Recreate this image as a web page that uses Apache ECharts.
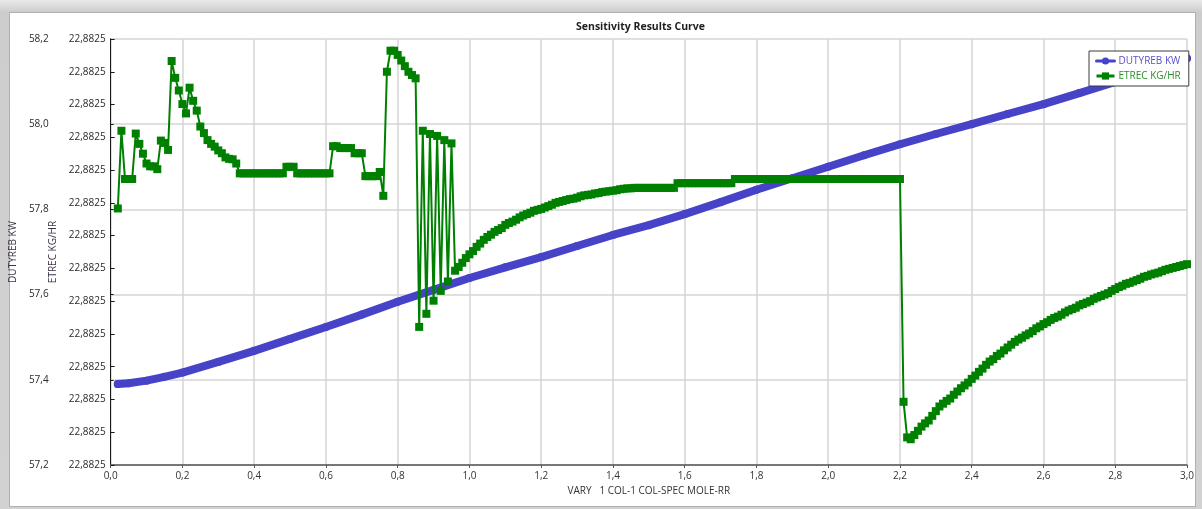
<!DOCTYPE html>
<html>
<head>
<meta charset="utf-8">
<script src="https://cdn.jsdelivr.net/npm/echarts@6/dist/echarts.min.js"></script>
<style>
  html, body { margin: 0; padding: 0; width: 1202px; height: 509px; overflow: hidden;
    background: linear-gradient(180deg, #e9e9e9 0px, #cdcdcd 12px, #d2d2d2 100%); }
  #panel { position: absolute; left: 9px; top: 12px; width: 1187px; height: 495px;
    background: #fff; border: 1px solid #b0b0b0; box-sizing: border-box; }
  #chart { position: absolute; left: 0; top: 0; width: 1202px; height: 509px; }
</style>
</head>
<body>
<div id="panel"></div>
<div id="chart"></div>
<script>
// ---- Data ----
const chartTitle = 'Sensitivity Results Curve';
const xAxisName = 'VARY   1 COL-1 COL-SPEC MOLE-RR';
const seriesNames = ['DUTYREB KW', 'ETREC KG/HR'];

// DUTYREB KW (left outer axis)
const dutyX = [0.02, 0.05, 0.1, 0.15, 0.2, 0.3, 0.4, 0.5, 0.6, 0.7, 0.8, 0.9, 1.0,
  1.1, 1.2, 1.3, 1.4, 1.5, 1.6, 1.7, 1.8, 1.9, 2.0,
  2.1, 2.2, 2.3, 2.4, 2.5, 2.6, 2.7, 2.8, 2.9, 3.0];
const dutyKW = [57.390, 57.392, 57.398, 57.407, 57.417, 57.442, 57.468, 57.496, 57.524, 57.553, 57.583, 57.611, 57.639,
  57.664, 57.688, 57.714, 57.740, 57.763, 57.789, 57.817, 57.846, 57.873, 57.900,
  57.927, 57.953, 57.977, 58.000, 58.024, 58.047, 58.073, 58.099, 58.127, 58.155];

// ETREC KG/HR sweep points (VARY 1)
const etrecX = [
  0.02,0.03,0.04,0.05,0.06,0.07,0.08,0.09,
  0.10,0.11,0.12,0.13,0.14,0.15,0.16,0.17,0.18,0.19,
  0.20,0.21,0.22,0.23,0.24,0.25,0.26,0.27,0.28,0.29,
  0.30,0.31,0.32,0.33,0.34,0.35,0.36,0.37,0.38,0.39,
  0.40,0.41,0.42,0.43,0.44,0.45,0.46,0.47,0.48,0.49,
  0.50,0.51,0.52,0.53,0.54,0.55,0.56,0.57,0.58,0.59,
  0.60,0.61,0.62,0.63,0.64,0.65,0.66,0.67,0.68,0.69,
  0.70,0.71,0.72,0.73,0.74,0.75,0.76,0.77,0.78,0.79,
  0.80,0.81,0.82,0.83,0.84,0.85,0.86,0.87,0.88,0.89,
  0.90,0.91,0.92,0.93,0.94,0.95,0.96,0.97,0.98,0.99,
  1.00,1.01,1.02,1.03,1.04,1.05,1.06,1.07,1.08,1.09,
  1.10,1.11,1.12,1.13,1.14,1.15,1.16,1.17,1.18,1.19,
  1.20,1.21,1.22,1.23,1.24,1.25,1.26,1.27,1.28,1.29,
  1.30,1.31,1.32,1.33,1.34,1.35,1.36,1.37,1.38,1.39,
  1.40,1.41,1.42,1.43,1.44,1.45,1.46,1.47,1.48,1.49,
  1.50,1.51,1.52,1.53,1.54,1.55,1.56,1.57,1.58,1.59,
  1.60,1.61,1.62,1.63,1.64,1.65,1.66,1.67,1.68,1.69,
  1.70,1.71,1.72,1.73,1.74,1.75,1.76,1.77,1.78,1.79,
  1.80,1.81,1.82,1.83,1.84,1.85,1.86,1.87,1.88,1.89,
  1.90,1.91,1.92,1.93,1.94,1.95,1.96,1.97,1.98,1.99,
  2.00,2.01,2.02,2.03,2.04,2.05,2.06,2.07,2.08,2.09,
  2.10,2.11,2.12,2.13,2.14,2.15,2.16,2.17,2.18,2.19,
  2.20,2.21,2.22,2.23,2.24,2.25,2.26,2.27,2.28,2.29,
  2.30,2.31,2.32,2.33,2.34,2.35,2.36,2.37,2.38,2.39,
  2.40,2.41,2.42,2.43,2.44,2.45,2.46,2.47,2.48,2.49,
  2.50,2.51,2.52,2.53,2.54,2.55,2.56,2.57,2.58,2.59,
  2.60,2.61,2.62,2.63,2.64,2.65,2.66,2.67,2.68,2.69,
  2.70,2.71,2.72,2.73,2.74,2.75,2.76,2.77,2.78,2.79,
  2.80,2.81,2.82,2.83,2.84,2.85,2.86,2.87,2.88,2.89,
  2.90,2.91,2.92,2.93,2.94,2.95,2.96,2.97,2.98,2.99,
  3.00];

// ETREC minus 22.882454 kg/hr, in 1e-6 kg/hr (axis labels round every tick to 22,8825)
const etrecBase = 22.882454;
const etrecMicro = [
  54.8,71.4,61.1,61.1,61.1,70.8,68.6,66.5,
  64.4,63.8,63.8,63.2,69.3,68.8,67.3,86.3,82.7,80.0,
  77.1,75.1,80.6,77.8,75.7,72.3,70.9,69.4,68.6,68.0,
  67.2,66.6,65.7,65.4,65.3,64.4,62.3,62.3,62.3,62.3,
  62.3,62.3,62.3,62.3,62.3,62.3,62.3,62.3,62.3,63.7,
  63.7,63.7,62.3,62.3,62.3,62.3,62.3,62.3,62.3,62.3,
  62.3,62.3,68.1,68.1,67.7,67.7,67.7,67.7,66.6,66.6,
  66.6,61.7,61.7,61.7,61.7,62.6,57.5,84.0,88.5,88.5,
  87.6,86.4,85.2,84.0,83.3,82.6,29.5,71.4,32.3,70.7,
  35.1,70.3,37.2,69.4,39.2,68.7,41.5,42.3,43.2,44.2,
  45.0,45.7,46.6,47.3,48.1,48.7,49.2,49.8,50.2,50.6,
  51.3,51.7,52.0,52.4,52.9,53.3,53.6,53.9,54.3,54.5,
  54.7,55.0,55.3,55.6,56.0,56.2,56.4,56.6,56.8,56.9,
  57.1,57.4,57.6,57.7,57.8,58.0,58.1,58.3,58.4,58.5,
  58.6,58.7,58.9,59.0,59.1,59.1,59.2,59.2,59.2,59.2,
  59.2,59.2,59.2,59.2,59.2,59.2,59.2,59.2,60.2,60.2,
  60.2,60.2,60.2,60.2,60.2,60.2,60.2,60.2,60.2,60.2,
  60.2,60.2,60.2,60.2,61.1,61.1,61.1,61.1,61.1,61.1,
  61.1,61.1,61.1,61.1,61.1,61.1,61.1,61.1,61.1,61.1,
  61.1,61.1,61.1,61.1,61.1,61.1,61.1,61.1,61.1,61.1,
  61.1,61.1,61.1,61.1,61.1,61.1,61.1,61.1,61.1,61.1,
  61.1,61.1,61.1,61.1,61.1,61.1,61.1,61.1,61.1,61.1,
  61.1,13.5,5.9,5.5,6.4,7.3,8.2,8.9,9.5,10.5,
  11.5,12.5,13.1,13.7,14.2,15.0,15.7,16.4,17.0,17.6,
  18.4,19.1,19.9,20.6,21.4,22.1,22.6,23.3,23.8,24.5,
  25.1,25.7,26.3,26.8,27.2,27.7,28.1,28.6,29.2,29.6,
  30.1,30.5,31.0,31.4,31.7,32.1,32.6,33.0,33.3,33.6,
  34.1,34.4,34.7,35.0,35.5,35.8,36.1,36.4,36.7,37.2,
  37.6,38.0,38.3,38.7,38.9,39.2,39.5,39.8,40.2,40.4,
  40.7,40.9,41.1,41.4,41.7,41.9,42.1,42.3,42.5,42.7,
  42.9];

// ---- Chart ----
const FONT = '"Open Sans", "Noto Sans", sans-serif';
const BLUE = '#4743c8';
const GREEN = '#008000';
const comma = (v, d) => v.toFixed(d).replace('.', ',');

const chart = echarts.init(document.getElementById('chart'), null, { renderer: 'canvas' });
chart.setOption({
  animation: false,
  backgroundColor: 'transparent',
  textStyle: { fontFamily: FONT },
  graphic: [{
    type: 'text', left: 646 - 70, top: 22,
    style: { text: chartTitle, font: 'bold 10.5px ' + FONT, fill: '#1e1e1e', width: 140, align: 'center' }
  }],
  grid: { left: 109, right: 15, top: 39, bottom: 44, containLabel: false },
  legend: {
    orient: 'vertical', left: 1089, top: 51, padding: [5, 8, 5, 6], itemGap: 5,
    itemWidth: 18, itemHeight: 9, backgroundColor: '#fff', borderColor: '#3c3c3c', borderWidth: 1,
    lineStyle: { width: 3 },
    textStyle: { fontSize: 10, fontFamily: FONT, padding: [0, 0, 0, -1] },
    data: [
      { name: seriesNames[0], textStyle: { color: '#5a4fd2' } },
      { name: seriesNames[1], textStyle: { color: '#2c8c2c' } }
    ]
  },
  xAxis: {
    type: 'value', min: 0, max: 3, interval: 0.2,
    name: xAxisName, nameLocation: 'middle', nameGap: 21,
    nameTextStyle: { fontSize: 10, color: '#333', fontFamily: FONT },
    axisLine: { show: true, lineStyle: { color: '#555', width: 1.5 } },
    axisTick: { show: true, length: 3, lineStyle: { color: '#555' } },
    axisLabel: { fontSize: 10, color: '#333', margin: 6, formatter: v => comma(v, 1) },
    splitLine: { show: true, lineStyle: { color: '#d4d4d4', width: 1.5 } }
  },
  yAxis: [
    {
      type: 'value', position: 'left', offset: 58, min: 57.2, max: 58.2, interval: 0.2,
      name: seriesNames[0], nameLocation: 'middle', nameGap: 29, nameRotate: 90,
      nameTextStyle: { fontSize: 10, color: '#3e3448', fontFamily: FONT },
      axisLine: { show: true, lineStyle: { color: '#1a1a1a', width: 1 } },
      axisTick: { show: true, inside: true, length: 3, lineStyle: { color: '#1a1a1a' } },
      axisLabel: { fontSize: 10, color: '#2a2a2a', margin: 4, formatter: v => comma(v, 1) },
      splitLine: { show: true, lineStyle: { color: '#d4d4d4', width: 1.5 } }
    },
    {
      type: 'value', position: 'left', offset: 0, min: 0, max: 91, interval: 7,
      name: seriesNames[1], nameLocation: 'middle', nameGap: 46, nameRotate: 90,
      nameTextStyle: { fontSize: 10, color: '#3e3448', fontFamily: FONT },
      axisLine: { show: true, lineStyle: { color: '#1a1a1a', width: 1 } },
      axisTick: { show: true, inside: true, length: 4, lineStyle: { color: '#1a1a1a' } },
      axisLabel: { fontSize: 10, color: '#2a2a2a', margin: 5,
        formatter: v => comma(etrecBase + v * 1e-6, 4) },
      splitLine: { show: false }
    }
  ],
  series: [
    {
      name: seriesNames[0], type: 'line', yAxisIndex: 0, z: 2,
      data: dutyX.map((x, i) => [x, dutyKW[i]]),
      symbol: 'circle', symbolSize: 8, showSymbol: true,
      itemStyle: { color: BLUE },
      lineStyle: { color: BLUE, width: 8, cap: 'round', join: 'round' }
    },
    {
      name: seriesNames[1], type: 'line', yAxisIndex: 1, z: 3,
      data: etrecX.map((x, i) => [x, etrecMicro[i]]),
      symbol: 'rect', symbolSize: 8, showSymbol: true,
      itemStyle: { color: GREEN },
      lineStyle: { color: GREEN, width: 2 }
    }
  ]
});
</script>
</body>
</html>
